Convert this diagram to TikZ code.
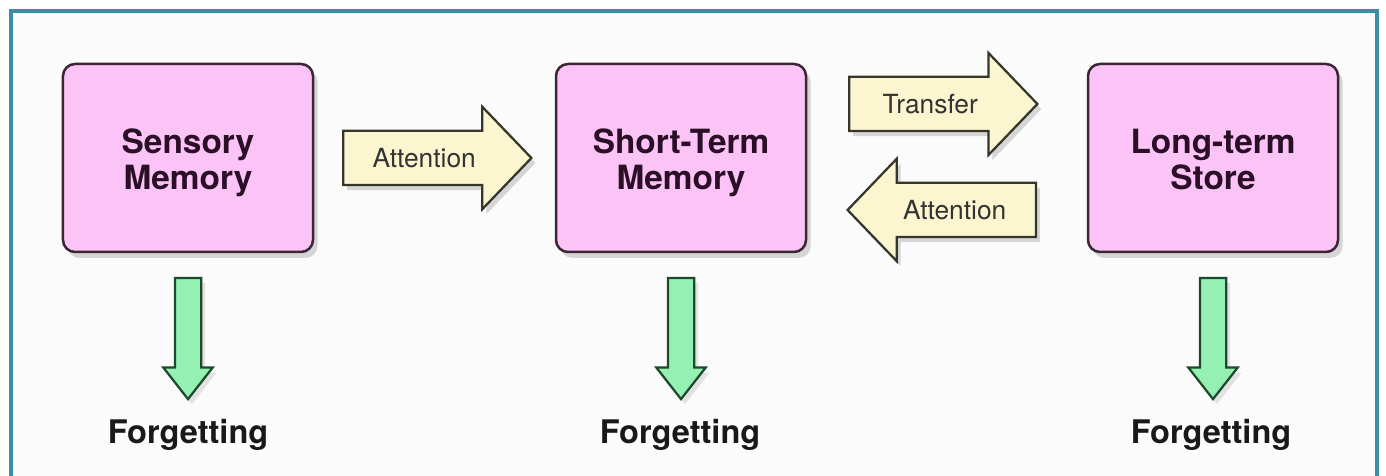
\documentclass[tikz,border=0pt]{standalone}
\usepackage{fontspec}
\setmainfont{TeX Gyre Heros}
\usetikzlibrary{shapes.arrows,shadows}
\definecolor{framecol}{HTML}{3B8EA5}
\definecolor{paper}{HTML}{FBFBFB}
\definecolor{boxfill}{HTML}{FBC3F6}
\definecolor{boxline}{HTML}{3A2634}
\definecolor{boxtext}{HTML}{2B0F26}
\definecolor{arrowfill}{HTML}{FBF6D0}
\definecolor{arrowline}{HTML}{35352A}
\definecolor{arrowtext}{HTML}{333333}
\definecolor{greenfill}{HTML}{95F0B4}
\definecolor{greenline}{HTML}{1D4A2C}
\begin{document}
\begin{tikzpicture}[x=0.2mm,y=0.2mm,
    memory/.style={rectangle, rounded corners=2.4mm, draw=boxline, line width=0.5mm, fill=boxfill,
        minimum width=50mm, minimum height=37.6mm, align=center, text=boxtext,
        font=\fontsize{19}{20.5}\selectfont\bfseries, text height=41.4pt, text depth=5pt,
        drop shadow={opacity=0.3, shadow xshift=0.9mm, shadow yshift=-1.2mm}},
    blockarrow/.style={single arrow, draw=arrowline, line width=0.45mm, fill=arrowfill,
        single arrow head extend=4.8mm, single arrow tip angle=92.4, inner xsep=0pt, inner ysep=3.3mm,
        text width=32mm, text height=3.8mm, text depth=0pt, align=center, text=arrowtext,
        font=\fontsize{15}{17}\selectfont, anchor=tail,
        drop shadow={opacity=0.3, shadow xshift=0.8mm, shadow yshift=-1mm}},
    forgetarrow/.style={single arrow, shape border rotate=270, draw=greenline, line width=0.45mm, fill=greenfill,
        minimum height=24.2mm, minimum width=9.4mm, inner sep=2.4mm, single arrow head extend=2.3mm,
        single arrow tip angle=76, anchor=tail,
        drop shadow={opacity=0.2, shadow xshift=0.8mm, shadow yshift=-1mm}},
    forget/.style={font=\fontsize{18.5}{20.5}\selectfont\bfseries, text=black!90}]
\useasboundingbox (0,0) rectangle (1386,476); % page
\fill[paper] (11,0) rectangle (1377,465); % inner background
\draw[framecol, line width=0.8mm] (11,0) -- (11,465) -- (1377,465) -- (1377,0); % frame
\node[memory] (sensory) at (188,318) {Sensory\\Memory}; % first store
\node[memory] (shortterm) at (681,318) {Short-Term\\Memory}; % second store
\node[memory] (longterm) at (1213,318) {Long-term\\Store}; % third store
\node[blockarrow] (attention) at (342,318) {Attention}; % sensory -> short-term
\node[blockarrow] (transfer) at (848,372) {Transfer}; % short-term -> long-term
\node[blockarrow, shape border rotate=180] (retrieve) at (1037,266) {Attention}; % long-term -> short-term
\node[forgetarrow] (decay1) at (sensory.south |- 0,199) {}; % down arrow left
\node[forgetarrow] (decay2) at (shortterm.south |- 0,199) {}; % down arrow middle
\node[forgetarrow] (decay3) at (longterm.south |- 0,199) {}; % down arrow right
\node[forget] (forget1) at (188,41) {Forgetting}; % label left
\node[forget] (forget2) at (680,41) {Forgetting}; % label middle
\node[forget] (forget3) at (1211,41) {Forgetting}; % label right
\end{tikzpicture}
\end{document}
